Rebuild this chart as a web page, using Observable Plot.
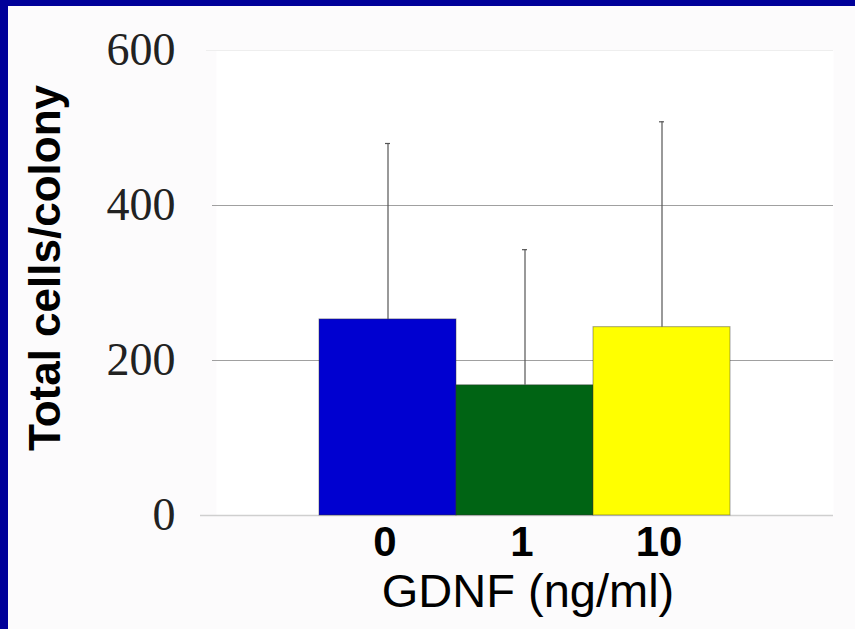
<!DOCTYPE html>
<html>
<head>
<meta charset="utf-8">
<script src="https://cdn.jsdelivr.net/npm/d3@7"></script>
<script src="https://cdn.jsdelivr.net/npm/@observablehq/plot@0.6"></script>
<style>
  html, body { margin: 0; padding: 0; background: #fcfbfc; overflow: hidden; }
  #chart {
    position: absolute; left: 0; top: 0;
    width: 847px; height: 623px;
    border-top: 6px solid #000099;
    border-left: 8px solid #000099;
    background: #fcfbfc;
  }
  #chart svg { display: block; }
</style>
</head>
<body>
<div id="chart"></div>
<script>
// Data
const doses = ["0", "1", "10"];
const means = [253, 168, 243];
const errors = [227, 175, 265];
const barColors = ["#0000d0", "#006414", "#ffff00"];
const yTicks = [0, 200, 400, 600];
const xLabel = "GDNF (ng/ml)";
const yLabel = "Total cells/colony";

const data = doses.map((d, i) => ({dose: d, mean: means[i], err: errors[i]}));

const chart = Plot.plot({
  width: 847,
  height: 623,
  marginLeft: 208,
  marginRight: 22,
  marginTop: 44,
  marginBottom: 114,
  style: {background: "#fcfbfc", overflow: "visible"},
  x: {domain: doses, paddingInner: 0, paddingOuter: 0.75, label: null},
  y: {domain: [0, 600], ticks: yTicks, label: null},
  color: {domain: doses, range: barColors},
  marks: [
    Plot.frame({fill: "white", stroke: null}),
    Plot.ruleY([600], {stroke: "#eeeeee", insetLeft: -10}),
    Plot.ruleY([200, 400], {stroke: "#a0a0a0", strokeWidth: 1, insetLeft: -4}),
    Plot.ruleY([0], {stroke: "#cfcfcf", strokeWidth: 1.5, insetLeft: -16}),
    Plot.barY(data, {x: "dose", y: "mean", fill: "dose", stroke: "#333", strokeOpacity: 0.45, strokeWidth: 1}),
    Plot.ruleX(data, {x: "dose", y1: "mean", y2: d => d.mean + d.err, stroke: "#555", strokeWidth: 1.2}),
    Plot.tickY(data, {x: "dose", y: d => d.mean + d.err, stroke: "#555", strokeWidth: 1.2, insetLeft: 66, insetRight: 66}),
    Plot.axisY({ticks: yTicks, tickSize: 0, tickPadding: 41, fontFamily: "Liberation Serif", fontSize: 46, fill: "#222", label: null}),
    Plot.axisX({tickSize: 0, tickPadding: 11, fontSize: 42, fontWeight: "bold", fontFamily: "Liberation Sans", fill: "#000", dx: -3, label: null}),
    Plot.text([yLabel], {frameAnchor: "left", rotate: -90, dx: -171, dy: -15, fontSize: 44, fontWeight: "bold", fontFamily: "Liberation Sans", fill: "#000", lineAnchor: "middle", textAnchor: "middle"}),
    Plot.text([xLabel], {frameAnchor: "bottom", dx: 3, dy: 76, fontSize: 47, fontFamily: "Liberation Sans", fill: "#000", lineAnchor: "middle", textAnchor: "middle"})
  ]
});

document.getElementById("chart").appendChild(chart);
</script>
</body>
</html>
